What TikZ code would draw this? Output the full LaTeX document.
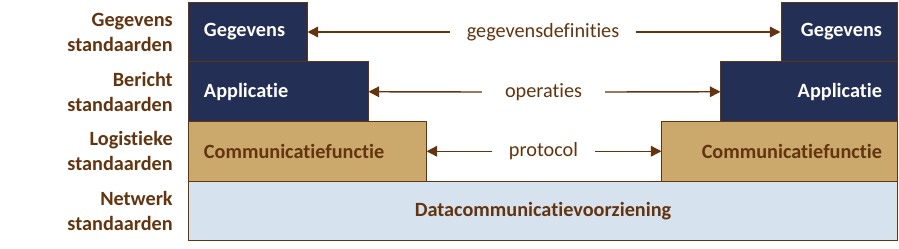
\documentclass[tikz,border=0pt]{standalone}
\usepackage{fontspec}
\setmainfont{Carlito}[Ligatures={NoCommon}]
\usepackage{tikz}
\usetikzlibrary{arrows.meta}
\usepackage{xcolor}
\definecolor{bruin}{RGB}{99,52,14}
\definecolor{donker}{RGB}{36,47,85}
\definecolor{zand}{RGB}{203,168,108}
\definecolor{licht}{RGB}{214,227,239}

\begin{document}
\begin{tikzpicture}[
		x=0.025cm, y=-0.025cm,
		every node/.style = {font=\fontsize{14.4}{17.7}\selectfont},
		laag/.style = {rectangle, draw=bruin, line width=0.7pt, minimum height=1.49cm, inner xsep=0.375cm, font=\fontsize{14.4}{17.7}\selectfont\bfseries},
		laagd/.style = {laag, fill=donker, text=white},
		laagz/.style = {laag, fill=zand, text=bruin},
		std/.style = {align=right, anchor=east, inner sep=0, text=bruin, font=\fontsize{14.4}{17.7}\selectfont\bfseries},
		lbl/.style = {text=bruin, inner xsep=0.42cm},
		pijl/.style = {-{Triangle[length=7.5pt, width=7.5pt]}, bruin, line width=1pt}
		]
		
		\useasboundingbox (0,0) rectangle (899,249);
		
		%Nodes
		\node[laagd, text width=2.2cm, align=left]		(gl)	at	(248, 32)		{Gegevens};
		\node[laagd, text width=3.725cm, align=left]	(al)	at	(278.5, 91.75)	{Applicatie};
		\node[laagz, text width=5.175cm, align=left]	(cl)	at	(307.5, 151.25)	{Communicatiefunctie};
		\node[laag, fill=licht, text=bruin, text width=16.95cm, align=center]	(dc)	at	(543, 211)	{Datacommunicatievoorziening};
		\node[laagd, text width=2.15cm, align=right]	(gr)	at	(839, 32)		{Gegevens};
		\node[laagd, text width=3.65cm, align=right]	(ar)	at	(809, 91.75)	{Applicatie};
		\node[laagz, text width=5.125cm, align=right]	(cr)	at	(779.5, 151.25)	{Communicatiefunctie};
		
		\node[std]	(s1)	at	(173, 32)		{Gegevens\\standaarden};
		\node[std]	(s2)	at	(173, 91.75)	{Bericht\\standaarden};
		\node[std]	(s3)	at	(173, 151.25)	{Logistieke\\standaarden};
		\node[std]	(s4)	at	(173, 211)		{Netwerk\\standaarden};
		
		\node[lbl]						(gd)	at	(543, 32)		{gegevensdefinities};
		\node[lbl, inner xsep=0.57cm]	(op)	at	(543.5, 92)		{operaties};
		\node[lbl]						(pr)	at	(543.5, 151.25)	{protocol};
		
		%Lines
		\draw[pijl]	(gd.west)	--	(gl.east);
		\draw[pijl]	(gd.east)	--	(gr.west);
		\draw[pijl]	(op.west)	--	(al.east);
		\draw[pijl]	(op.east)	--	(ar.west);
		\draw[pijl]	(pr.west)	--	(cl.east);
		\draw[pijl]	(pr.east)	--	(cr.west);
	\end{tikzpicture}
\end{document}
